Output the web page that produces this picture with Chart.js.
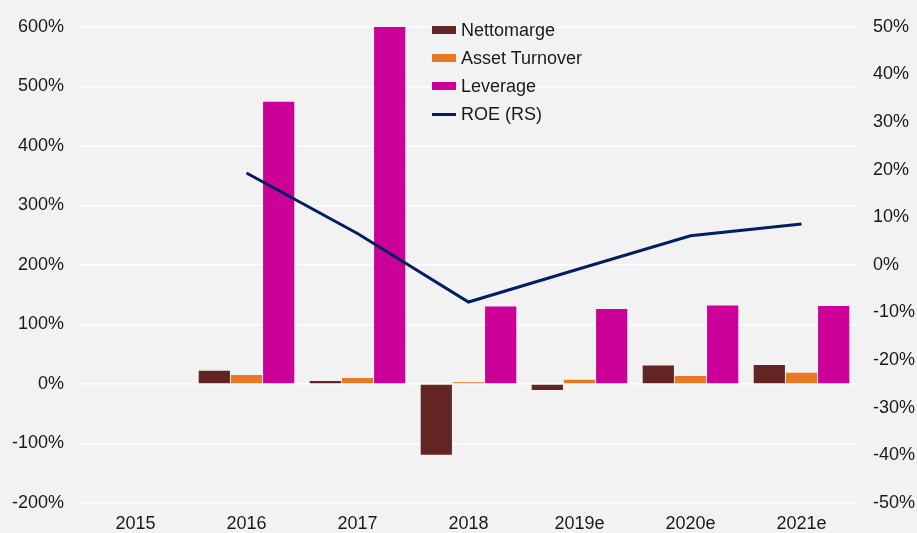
<!DOCTYPE html>
<html>
<head>
<meta charset="utf-8">
<script src="https://cdn.jsdelivr.net/npm/chart.js@4"></script>
<style>
  html, body { margin: 0; padding: 0; background: #f2f2f2; }
  #wrap { position: relative; width: 917px; height: 533px; }
  #legend { position: absolute; left: 432px; top: 16px; font: 18px "Liberation Sans", Arial, sans-serif; color: #1a1a1a; }
  #legend div { height: 28px; line-height: 24px; display: flex; align-items: center; }
  #legend span.sw { display: inline-block; width: 24px; margin-right: 5px; }
</style>
</head>
<body>
<div id="wrap">
  <canvas id="myChart" width="917" height="533"></canvas>
  <div id="legend"></div>
</div>
<script>
// data
const years = ['2015', '2016', '2017', '2018', '2019e', '2020e', '2021e'];
const nettomarge = [null, 22, 5, -119, -10, 31, 32];
const assetTurnover = [null, 15, 10, 3, 7, 13.5, 19];
const leverage = [null, 474, 600, 130, 126, 132, 131];
const roe = [null, 19.3, 6.6, -7.8, -0.8, 6.1, 8.6];

const font = { family: '"Liberation Sans", Arial, sans-serif', size: 18 };
const textColor = '#1a1a1a';

const ctx = document.getElementById('myChart').getContext('2d');
const chart = new Chart(ctx, {
  data: {
    labels: years,
    datasets: [
      { type: 'line', label: 'ROE (RS)', data: roe, yAxisID: 'y2', borderColor: '#002060', backgroundColor: '#002060',
        borderWidth: 3, pointRadius: 0, tension: 0, order: 0 },
      { type: 'bar', label: 'Nettomarge', data: nettomarge, yAxisID: 'y', backgroundColor: '#632523', borderWidth: 0, order: 1 },
      { type: 'bar', label: 'Asset Turnover', data: assetTurnover, yAxisID: 'y', backgroundColor: '#ea7722', borderWidth: 0, order: 1 },
      { type: 'bar', label: 'Leverage', data: leverage, yAxisID: 'y', backgroundColor: '#cc0099', borderWidth: 0, order: 1 },
    ]
  },
  options: {
    responsive: false,
    animation: false,
    layout: { padding: { top: 24, bottom: 0, left: 0, right: 0 } },
    datasets: { bar: { categoryPercentage: 0.87, barPercentage: 0.97 } },
    plugins: { legend: { display: false }, tooltip: { enabled: false } },
    scales: {
      x: {
        grid: { display: false, drawTicks: false },
        border: { display: false },
        ticks: { font: font, color: textColor, padding: 10 },
        afterFit: (s) => { s.height = 30; }
      },
      y: {
        position: 'left',
        min: -200, max: 600,
        grid: { color: '#ffffff', lineWidth: 1.5, drawTicks: false },
        border: { display: false },
        ticks: { stepSize: 100, font: font, color: textColor, padding: 16, callback: (v) => v + '%' },
        afterFit: (s) => { s.width = 80; }
      },
      y2: {
        position: 'right',
        min: -50, max: 50,
        grid: { display: false, drawTicks: false },
        border: { display: false },
        ticks: { stepSize: 10, font: font, color: textColor, padding: 16, callback: (v) => v + '%' },
        afterFit: (s) => { s.width = 60; }
      }
    }
  }
});

// legend as html, order as in the reference
const legend = document.getElementById('legend');
['Nettomarge', 'Asset Turnover', 'Leverage', 'ROE (RS)'].forEach((name) => {
  const ds = chart.data.datasets.find((d) => d.label === name);
  const row = document.createElement('div');
  const sw = document.createElement('span');
  sw.className = 'sw';
  sw.style.height = ds.type === 'line' ? '3px' : '8px';
  sw.style.background = ds.backgroundColor;
  row.appendChild(sw);
  row.appendChild(document.createTextNode(name));
  legend.appendChild(row);
});
</script>
</body>
</html>
